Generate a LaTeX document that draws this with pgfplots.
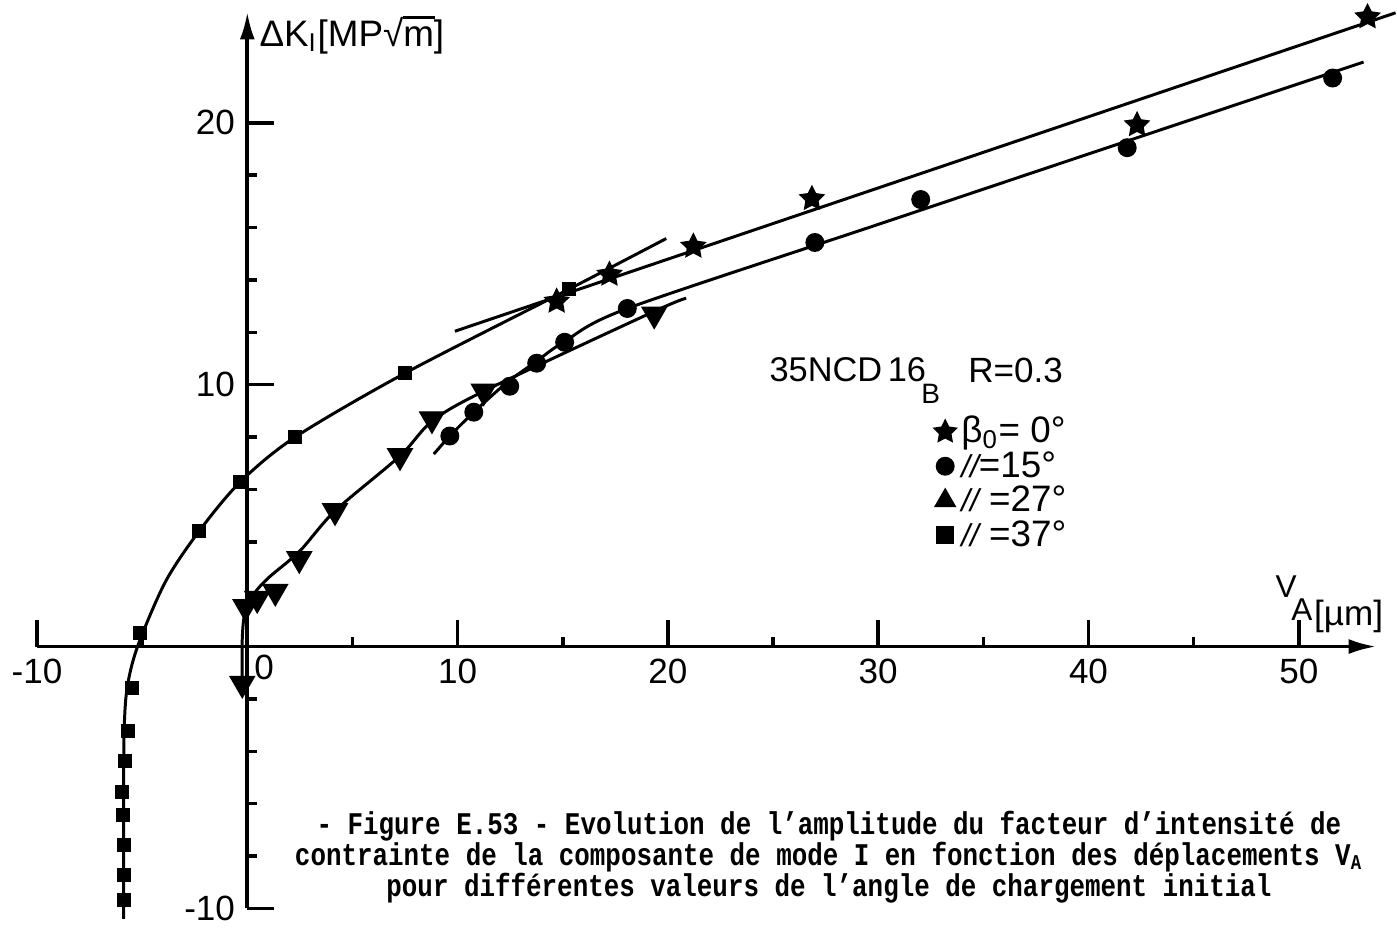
\documentclass[border=0pt]{standalone}
\usepackage{pgfplots}
\pgfplotsset{compat=1.18}
\usepackage{fontspec}
\setmainfont{Liberation Sans}
\newfontfamily\capfont[FakeStretch=0.82]{Liberation Mono}
\usetikzlibrary{arrows.meta}

% filled five-pointed star
\pgfdeclareplotmark{fstar}{%
  \pgfpathmoveto{\pgfpointpolar{90}{\pgfplotmarksize}}%
  \pgfpathlineto{\pgfpointpolar{126}{0.5\pgfplotmarksize}}%
  \pgfpathlineto{\pgfpointpolar{162}{\pgfplotmarksize}}%
  \pgfpathlineto{\pgfpointpolar{198}{0.5\pgfplotmarksize}}%
  \pgfpathlineto{\pgfpointpolar{234}{\pgfplotmarksize}}%
  \pgfpathlineto{\pgfpointpolar{270}{0.5\pgfplotmarksize}}%
  \pgfpathlineto{\pgfpointpolar{306}{\pgfplotmarksize}}%
  \pgfpathlineto{\pgfpointpolar{342}{0.5\pgfplotmarksize}}%
  \pgfpathlineto{\pgfpointpolar{18}{\pgfplotmarksize}}%
  \pgfpathlineto{\pgfpointpolar{54}{0.5\pgfplotmarksize}}%
  \pgfpathclose\pgfusepathqfill}

\begin{document}
\begin{tikzpicture}
\begin{axis}[
  x=0.2108cm, y=0.2625cm,
  xmin=-10, xmax=53.7, ymin=-10, ymax=24.25,
  axis lines=middle,
  axis line style={line width=1.1pt, -{Latex[length=2.8mm,width=1.5mm]}},
  clip=false,
  tick align=inside,
  xtick={-10,10,20,30,40,50},
  xticklabels={-10,10,20,30,40,50},
  minor xtick={-5,5,15,25,35,45},
  ytick={-10,10,20},
  yticklabels={-10,10,20},
  minor ytick={-8,-6,-4,-2,2,4,6,8,12,14,16,18},
  major tick length=0.27cm,
  minor tick length=0.1cm,
  every tick/.style={black, line width=1pt},
  tick label style={font=\fontsize{10}{12}\selectfont},
  legend style={at={(axis cs:32.55,8.78)}, anchor=north west, draw=none, fill=none,
    font=\fontsize{10.5}{12}\selectfont, row sep=1.5pt, inner sep=0pt,
    nodes={inner sep=0pt, text height=7.3pt, text depth=1pt}},
  legend cell align=left,
  legend image code/.code={\draw[#1] plot coordinates {(0cm,0cm)};},
]
% curves
\addplot[smooth, line width=0.85pt, forget plot] coordinates {
  (-5.88,-10.4) (-5.88,-6) (-5.86,-3.3) (-5.72,-1.6) (-5.22,0) (-3.89,2.48)
  (-2.28,4.42) (-0.33,6.29) (2.28,8.0) (7.5,10.44) (15.28,13.64) (19.92,15.58)};
\addplot[smooth, line width=0.85pt, forget plot] coordinates {
  (-0.24,-1.6) (-0.24,0.3) (-0.1,1.35) (0.35,2.05) (1.04,2.65) (2.5,3.65)
  (4.17,5.18) (7.26,7.28) (8.78,8.6) (11.24,9.75) (19.35,12.8) (20.87,13.3)};
\addplot[smooth, line width=0.85pt, forget plot] coordinates {
  (8.87,7.35) (9.63,8.04) (10.77,8.95) (12.3,10.05) (13.76,10.9) (15.09,11.65)
  (18.07,12.91) (30,16.12) (40,18.81) (53.08,22.32)};
\addplot[line width=0.85pt, forget plot] coordinates {
  (9.87,12.04) (54.6,24.2)};
% data points
\addplot[only marks, mark=fstar, mark size=4pt, forget plot] coordinates {
  (14.71,13.18) (17.22,14.21) (21.21,15.28) (26.85,17.10) (42.31,19.92) (53.27,24.04)};
\addplot[only marks, mark=*, mark size=2.5pt, forget plot] coordinates {
  (9.63,8.04) (10.77,8.95) (12.48,9.94) (13.76,10.82) (15.09,11.62)
  (18.07,12.91) (26.99,15.43) (32.02,17.07) (41.84,19.05) (51.61,21.71)};
\addplot[only marks, mark=triangle*, mark size=4pt, mark options={rotate=180}, forget plot] coordinates {
  (-0.24,-1.41) (-0.09,1.52) (0.47,1.83) (1.33,2.10) (2.47,3.35) (4.17,5.18)
  (7.26,7.28) (8.78,8.69) (11.24,9.75) (19.35,12.69)};
\addplot[only marks, mark=square*, mark size=1.8pt, forget plot] coordinates {
  (-5.88,-9.68) (-5.88,-8.72) (-5.88,-7.58) (-5.93,-6.44) (-5.98,-5.56)
  (-5.83,-4.38) (-5.69,-3.24) (-5.50,-1.60) (-5.12,0.50) (-2.28,4.42)
  (-0.33,6.29) (2.28,8.00) (7.50,10.44) (15.28,13.64)};
% legend
\addlegendimage{only marks, mark=fstar, mark size=3.8pt}
\addlegendentry{\kern1pt β\textsubscript{0}= 0°}
\addlegendimage{only marks, mark=*, mark size=2.5pt}
\addlegendentry{\kern1pt{\small\itshape //}=15°}
\addlegendimage{only marks, mark=triangle*, mark size=3.3pt}
\addlegendentry{\kern1pt{\small\itshape //} =27°}
\addlegendimage{only marks, mark=square*, mark size=2.4pt}
\addlegendentry{\kern1pt{\small\itshape //} =37°}
% texts
\node[font=\fontsize{10}{12}\selectfont] at (axis cs:0.8,-0.8) {0};
\node[anchor=west, inner sep=0pt, font=\fontsize{10.5}{12}\selectfont] at (axis cs:0.55,23.35)
  {ΔK\textsubscript{\rmfamily I}[MP√\rlap{\rule[0.74em]{0.86em}{0.07em}}m]};
\node[font=\fontsize{9}{11}\selectfont] at (axis cs:49.4,2.3) {V};
\node[font=\fontsize{9}{11}\selectfont] at (axis cs:50.15,1.4) {A};
\node[font=\fontsize{10}{12}\selectfont] at (axis cs:52.37,1.14) {[µm]};
\node[anchor=west, inner sep=0pt, font=\fontsize{9.8}{12}\selectfont] at (axis cs:24.8,10.59) {35NCD\,16};
\node[font=\fontsize{8}{10}\selectfont] at (axis cs:32.5,9.65) {B};
\node[anchor=west, inner sep=0pt, font=\fontsize{10}{12}\selectfont] at (axis cs:34.25,10.55) {R=0.3};
\node[align=center, font=\capfont\bfseries\fontsize{9}{8.8}\selectfont] at (axis cs:27.66,-8.05)
  {- Figure E.53 - Evolution de l’amplitude du facteur d’intensité de\\
   contrainte de la composante de mode I en fonction des déplacements V\textsubscript{A}\\
   pour différentes valeurs de l’angle de chargement initial};
\path (axis cs:-11.62,-10.51) rectangle (axis cs:54.65,24.69);
\end{axis}
\end{tikzpicture}
\end{document}
